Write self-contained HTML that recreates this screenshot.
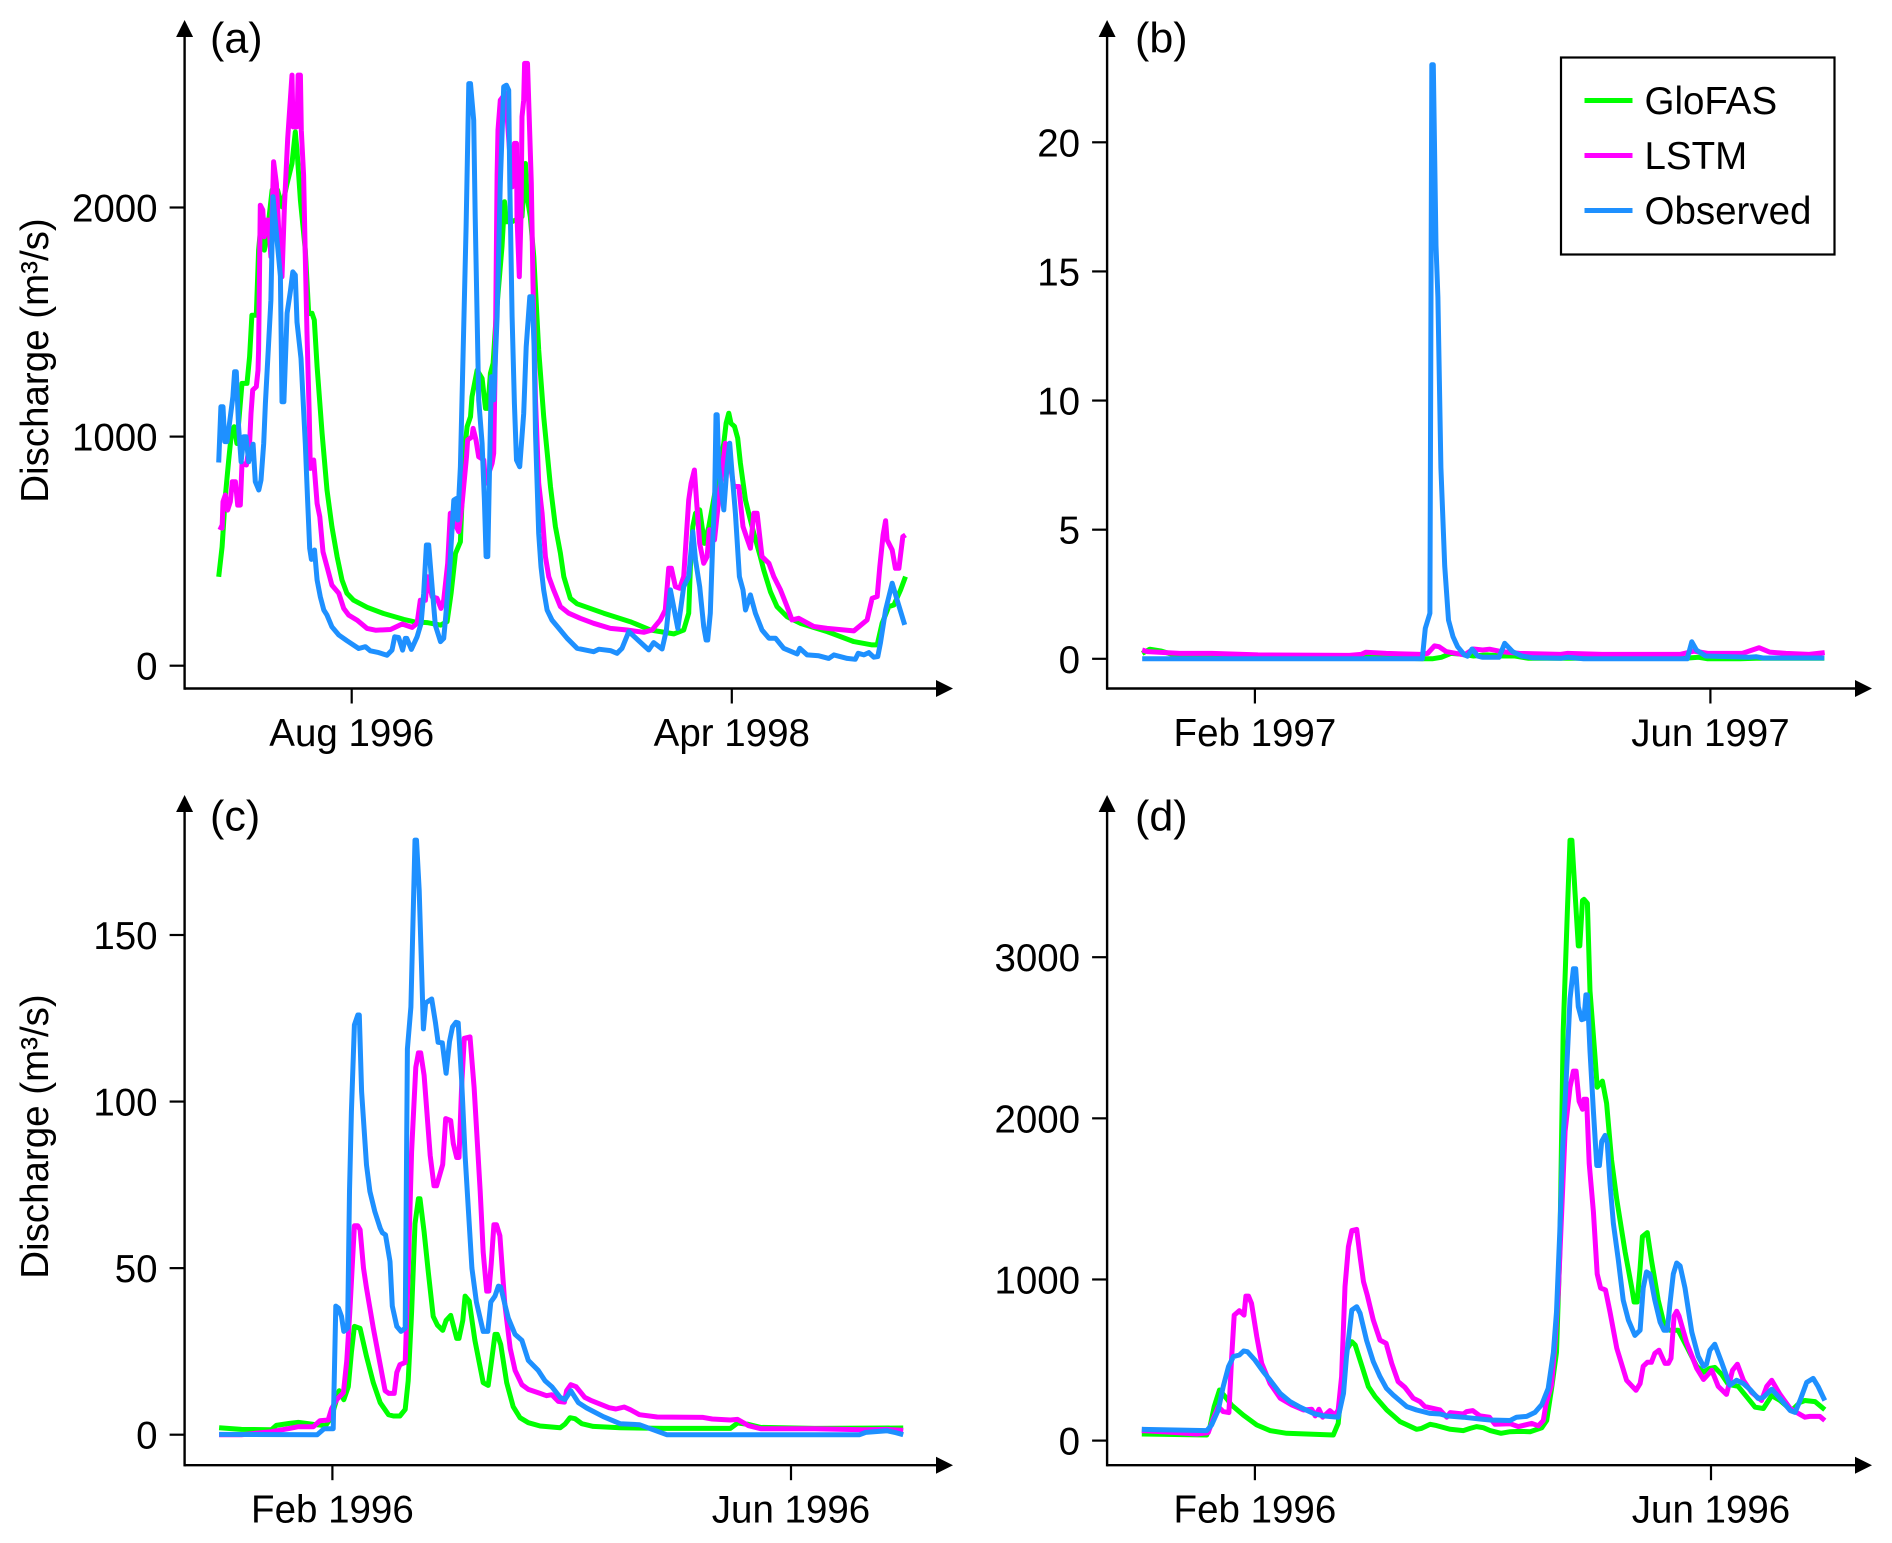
<!DOCTYPE html>
<html lang="en">
<head>
<meta charset="utf-8">
<title>Discharge comparison: GloFAS, LSTM, Observed</title>
<style>
html,body{margin:0;padding:0;background:#fff;}
svg{display:block;}
text{font-family:"Liberation Sans",Arial,sans-serif;font-size:38.5px;fill:#000;}
</style>
</head>
<body>
<svg id="chart" xmlns="http://www.w3.org/2000/svg" width="1892" height="1543" viewBox="0 0 1892 1543">
<rect x="0" y="0" width="1892" height="1543" fill="#fff"/>
<g id="panel-a"></g>
<g id="panel-b"></g>
<g id="panel-c"></g>
<g id="panel-d"></g>
<text x="210" y="52.5" style="font-size:43px">(a)</text>
<text x="1135" y="52.5" style="font-size:43px">(b)</text>
<text x="210" y="830.5" style="font-size:43px">(c)</text>
<text x="1135" y="830.5" style="font-size:43px">(d)</text>
<text transform="translate(48,360.5) rotate(-90)" text-anchor="middle" style="font-size:38.5px">Discharge (m³/s)</text>
<text transform="translate(48,1136.5) rotate(-90)" text-anchor="middle" style="font-size:38.5px">Discharge (m³/s)</text>
<g>
<rect x="1561" y="57.5" width="273.5" height="197" fill="#fff" stroke="#000" stroke-width="2.2"/>
<line x1="1584.5" y1="100.5" x2="1632.5" y2="100.5" stroke="#00ff00" stroke-width="5"/>
<line x1="1584.5" y1="155.5" x2="1632.5" y2="155.5" stroke="#ff00ff" stroke-width="5"/>
<line x1="1584.5" y1="210.5" x2="1632.5" y2="210.5" stroke="#1e90ff" stroke-width="5"/>
<text x="1644.5" y="114">GloFAS</text>
<text x="1644.5" y="169">LSTM</text>
<text x="1644.5" y="224">Observed</text>
</g>
</svg>
<script>
// Panel (a): time in months since Jan 1996, discharge in m3/s
const aTickMonths = [7, 27];
const aTickLabels = ['Aug 1996', 'Apr 1998'];
const aYTicks = [0, 1000, 2000];
const aObservedTime = [
0,.12,.23,.32,.44,.58,.75,.84,.93,1.05,
1.18,1.32,1.44,1.58,1.81,1.93,2.11,2.23,2.37,2.46,
2.63,2.75,2.86,3.25,3.33,3.43,3.6,3.77,3.9,4.03,
4.12,4.33,4.47,4.56,4.68,4.79,4.88,5.04,5.18,5.35,
5.53,5.7,5.96,6.32,6.75,7.37,7.72,7.98,8.42,8.86,
9.12,9.26,9.47,9.68,9.82,9.9,10.14,10.44,10.65,10.79,
10.93,11.05,11.23,11.4,11.67,11.84,11.93,12.16,12.37,12.51,
12.58,12.72,12.86,13.02,13.16,13.25,13.42,13.5,13.68,13.86,
13.98,14.07,14.16,14.26,14.35,14.47,14.65,14.82,15,15.14,
15.26,15.32,15.44,15.56,15.67,15.84,16.05,16.18,16.37,16.5,
16.6,16.67,16.84,16.96,17.1,17.28,17.54,17.9,18.33,18.86,
19.73,20,20.61,20.96,21.22,21.58,22.63,22.89,23.33,23.56,
23.77,24.16,24.3,24.47,24.73,24.95,25.09,25.31,25.52,25.65,
25.73,25.87,26,26.1,26.17,26.23,26.31,26.58,26.75,26.89,
27,27.19,27.4,27.59,27.72,27.98,28.24,28.59,28.95,29.3,
29.73,30.44,30.58,30.96,31.58,32.1,32.37,33.07,33.5,33.65,
33.95,34.21,34.47,34.68,34.82,35.09,35.44,35.7,36.1];
const aObservedValue = [
887,1130,1130,978,978,1065,1174,1283,1283,1043,
890,999,999,890,967,803,767,810,970,1145,
1407,1596,2047,1700,1152,1152,1538,1632,1719,1705,
1500,1341,1116,970,723,512,464,505,374,301,
243,221,170,134,109,75,83,65,57,46,
68,126,123,68,119,119,71,126,185,316,
527,527,345,177,105,119,199,432,723,730,
636,868,1363,1916,2541,2541,2381,1960,1160,970,
723,476,476,898,1261,1160,1523,2105,2527,2534,
2512,2105,1523,1145,898,868,1101,1392,1610,1610,
1392,1014,577,432,330,243,199,163,120,76,
61,72,66,54,76,149,69,101,73,156,
331,163,243,345,389,585,462,345,171,112,
112,229,549,738,1095,1095,869,680,869,971,
854,665,389,331,243,309,229,156,120,120,
76,51,76,47,43,32,47,32,28,54,
47,57,37,40,98,243,360,287,178];
const aLstmTime = [
0,.18,.23,.35,.47,.61,.72,.88,1,1.14,
1.23,1.46,1.63,1.7,1.79,1.98,2.07,2.1,2.19,2.32,
2.4,2.54,2.63,2.75,2.89,3.04,3.16,3.33,3.46,3.63,
3.86,3.91,4.12,4.18,4.3,4.35,4.47,4.56,4.65,4.77,
4.82,5,5.18,5.32,5.49,5.7,5.96,6.32,6.58,6.84,
7.28,7.81,8.25,9.04,9.65,10.18,10.44,10.61,10.88,11,
11.23,11.49,11.7,11.84,12.05,12.19,12.63,12.81,13.04,13.1,
13.33,13.39,13.54,13.68,13.95,14.04,14.39,14.47,14.56,14.65,
14.7,14.82,15.09,15.44,15.56,15.67,15.7,15.82,15.91,15.96,
16.05,16.1,16.25,16.45,16.54,16.67,16.84,17.02,17.19,17.37,
17.63,17.98,18.42,19.03,19.73,20.61,21.49,22.37,22.8,23.24,
23.5,23.68,23.82,24.03,24.26,24.47,24.73,24.86,25.03,25.14,
25.31,25.52,25.7,25.82,26.09,26.31,26.66,26.93,27.1,27.37,
27.59,27.77,27.98,28.16,28.33,28.59,28.95,29.21,29.56,29.91,
30.17,30.52,31.31,32.02,33.42,34.12,34.38,34.65,34.79,34.96,
35.09,35.17,35.44,35.61,35.79,36,36.14];
const aLstmValue = [
607,600,716,745,679,716,803,803,701,701,
883,876,970,1101,1203,1218,1290,1377,2010,1989,
1872,1945,1945,1785,2200,2105,1901,1698,2003,2301,
2578,2352,2352,2578,2578,2338,2141,1785,1450,1087,
861,898,708,650,497,432,352,316,250,221,
199,163,155,158,182,167,185,286,286,388,
301,294,250,286,447,665,585,708,912,985,
999,1036,985,912,898,796,883,927,1377,2141,
2338,2469,2498,2090,2280,2280,1960,1698,1960,2396,
2469,2629,2629,2107,1670,1160,796,665,476,388,
330,258,229,207,185,163,156,146,156,200,
243,425,425,345,338,389,723,796,854,723,
534,447,476,593,549,723,971,869,782,782,
607,563,513,665,665,476,447,389,331,258,
200,207,171,163,152,200,294,302,432,571,
633,549,505,425,425,563,571];
const aGlofasTime = [
0,.18,.35,.53,.67,.82,.96,1.23,1.49,1.63,
1.75,1.98,2.1,2.28,2.4,2.54,2.81,3.1,3.33,3.6,
3.86,4.03,4.12,4.3,4.56,4.74,4.91,5.03,5.18,5.44,
5.7,5.96,6.23,6.49,6.75,7.1,7.81,8.68,9.74,10.26,
10.96,11.67,12.02,12.23,12.46,12.72,12.89,13.07,13.25,13.33,
13.6,13.86,14.04,14.16,14.3,14.44,14.6,14.91,15.04,15.14,
15.44,15.96,16.14,16.23,16.4,16.58,16.84,17.1,17.46,17.72,
17.98,18.16,18.5,18.86,20.26,21.66,22.72,23.95,24.47,24.73,
24.82,24.95,25.09,25.31,25.56,25.79,26.58,26.7,26.84,26.96,
27.14,27.31,27.45,27.72,27.89,28.16,28.5,28.68,29.03,29.38,
29.91,30.61,32.02,33.42,34.38,34.65,34.91,35.26,35.53,35.88,36.14];
const aGlofasValue = [
388,519,738,898,1014,1043,970,1232,1232,1349,
1530,1530,1814,1974,1814,1872,2076,2076,2003,2105,
2192,2330,2250,2032,1814,1537,1538,1509,1305,1014,
767,607,476,374,316,286,255,228,202,192,
188,177,192,316,490,541,898,1043,1087,1174,
1290,1254,1123,1123,1276,1320,1523,1829,2025,1938,
1938,1960,2192,2047,1960,1785,1378,1087,781,607,
491,389,294,270,229,192,156,139,156,229,
432,607,665,680,534,607,971,1058,1102,1058,
1044,993,884,723,665,578,476,418,323,258,
214,185,149,105,91,91,185,258,265,331,389];

// Panel (b): time in day of year 1997, discharge in m3/s
const bTickDays = [32, 152];
const bTickLabels = ['Feb 1997', 'Jun 1997'];
const bYTicks = [0, 5, 10, 15, 20];
const bObservedTime = [2.3,76.1,76.9,78.1,78.6,79,79.7,80.2,81,82,83,84.2,85.4,87.2,88,89.2,90.8,92,96.3,97.8,99.9,102.3,105.3,112.6,114.4,118.6,145.9,147.1,148.3,150.7,162.2,164,165.8,182];
const bObservedValue = [0,0,1.18,1.76,23,23,16,14,7.4,3.6,1.5,.86,.47,.15,.1,.38,.1,.06,.06,.6,.28,.11,.04,.02,.06,0,0,.66,.34,.11,.06,.08,.03,.03];
const bLstmTime = [2.3,3.7,12.2,20.7,32.8,56.9,60,61.2,66.6,75.7,77.5,79.3,80.5,82.4,87.2,89.6,92,93.8,96.9,101.7,112.6,114.4,123.5,144,147.7,151.3,160.4,164.8,167.6,171.9,178,182.1];
const bLstmValue = [.34,.28,.21,.21,.15,.13,.17,.25,.21,.17,.21,.5,.47,.28,.15,.38,.34,.37,.28,.21,.17,.21,.17,.17,.3,.21,.21,.43,.26,.21,.17,.24];
const bGlofasTime = [2.3,4.3,7.4,12.2,56.9,61.2,64,76.3,78.7,81.1,83.6,87.2,89.6,93.2,96.9,100.5,104.1,145.2,148.9,151.3,159.8,164,182];
const bGlofasValue = [.21,.37,.3,.08,.06,.1,.06,0,0,.06,.21,.17,.11,.15,.11,.11,.02,.02,.06,0,0,.02,.02];

// Panel (c): time in day of year 1996, discharge in m3/s
const cTickDays = [32, 153];
const cTickLabels = ['Feb 1996', 'Jun 1996'];
const cYTicks = [0, 50, 100, 150];
const cObservedTime = [
2.1,28,29.8,32.2,32.9,33.6,34.4,35,36,36.5,
37,37.8,38.7,39.1,39.7,41,41.9,43.2,44.6,45.2,
46,47.2,47.8,49,50.1,51.2,51.8,52.7,53.8,54.2,
54.9,56,56.6,58.2,59.2,59.9,61,62,62.9,63.7,
64.6,65.2,66.1,67,67.9,68.8,70,71.8,73,73.8,
74.9,75.8,76.4,77.5,78.4,80.2,82,83.7,86.3,88.1,
89.9,92.1,93.4,94.9,96.9,99.1,103.5,107.9,113,120.2,
171.1,172.7,178.3,180.7,182.6];
const cObservedValue = [
.1,0,1.8,1.8,38.6,38,35.5,31,32,73,
97,123,126,126,103,81,73,67,62,60.6,
60,52,38.6,32.5,31,32,115.8,128.4,178.5,178.5,
163.4,121.8,129.6,130.8,123.6,117.8,117.6,108.5,118,122.4,
123.8,123.6,106.7,83.8,66.9,50,39.8,31,31,39.8,
41.6,44.6,44.3,39.2,35,30.1,28.3,22.3,19.3,16.2,
14.4,11.2,10.6,13.2,9.6,8,5.4,3.3,3,0,
0,.7,1.2,.6,0];
const cLstmTime = [
2.1,8,15.9,20.7,23,27,28.7,30.9,31.8,33.1,
34.9,35.8,36.6,37.8,38.7,39.3,40.2,41,42.8,44.6,
45.9,46.9,48.3,49,49.8,51.2,52,52.9,54,54.7,
55.3,56.2,57.8,58.8,59.5,61.1,61.9,63.2,63.9,64.8,
65.4,66.1,66.8,68.3,69.4,71,71.8,72.7,73.3,73.9,
74.6,75.3,76.2,77.5,78.9,80.2,82,83.7,86.8,88.5,
89.9,91.6,93.2,93.8,94.9,96.3,98.6,100.4,105,106.8,
109,110.6,113,117.7,129.8,132.2,137,138.9,141.8,145,
159.3,172,178.4,182.6];
const cLstmValue = [
0,0,.9,1.9,2.4,2.4,4.2,4.4,7.8,10.5,
12.6,22.3,36.8,62.7,62.7,61.5,50,44,32,21,
13.2,12.4,12.4,18.7,21,21.7,48.8,85,110.3,114.6,
114.6,107.9,83.8,74.7,74.7,81.1,94.9,94.3,87.4,83.2,
83.2,104.3,119,119.4,104.3,73,54.8,43.1,43.1,51.2,
63,63,59.7,39.2,25.9,19.3,15,13.6,12.4,11.7,
12,10,9.8,13.2,15,14.4,11.2,10.2,8.1,7.7,
8.3,7.5,6,5.3,5.2,4.7,4.4,4.6,2.7,1.8,
1.8,1.5,1.6,1.3];
const cGlofasTime = [
2.1,8,15.9,17.2,20.7,23,27,30.2,31.8,32.7,
33.8,35,36.2,37,37.8,39.3,41,42.8,44.6,46.8,
48.1,49.8,51.2,52,52.9,53.8,54.7,55.1,56.2,57.3,
58.6,59.7,61.1,62,63.2,64.8,65.4,66.4,67,68.1,
69.6,71.8,73.1,74,74.9,75.5,76.4,78,79.7,81.5,
83.7,86.8,92.1,93.4,94.7,96,97.8,100.8,107.9,119.4,
137,138.9,141.8,145,159.3,182.6];
const cGlofasValue = [
2.1,1.6,1.5,2.8,3.4,3.7,3.1,2.7,5.4,9,
13.2,10.5,14.4,24.7,32.5,31.9,23.5,15.6,9.6,6,
5.6,5.6,7.6,16.2,36.8,63.3,70.8,70.8,60.9,48.8,
35.5,32.9,31.3,34.3,35.8,28.9,28.9,34.3,41.6,40.1,
28.3,15.6,14.8,22.3,30.1,30.1,27.1,15.6,8.4,5.1,
3.6,2.6,2.1,3.2,5.1,4.8,3.3,2.5,2.1,1.9,
1.9,3.5,3.1,2.2,1.9,2];

// Panel (d): time in day of year 1996, discharge in m3/s
const dTickDays = [32, 153];
const dTickLabels = ['Feb 1996', 'Jun 1996'];
const dYTicks = [0, 1000, 2000, 3000];
const dObservedTime = [
2,19.2,20.5,22.3,23.6,25,26.3,27.9,29,30,
32,34.2,36,38.7,41.3,44,47.5,50.2,54.1,55.5,
56.3,57.7,59,59.9,61.6,63.4,65.2,66.9,68.7,72.3,
74.9,78.5,81.1,82.9,87.3,91.7,94.4,99.7,101.4,104.1,
106.3,108.1,109.8,111.2,112,112.9,113.6,114.7,115.6,116.5,
117.1,117.8,118.7,119.3,119.8,120.2,120.9,121.8,122.7,123.4,
124,124.9,125.5,126.2,127.1,128.4,129.7,131.1,132.8,134.2,
135,135.9,136.8,138.1,139.5,140.5,141.4,142.1,143,143.9,
144.8,146.1,147.9,149.6,151,151.8,152.7,154,155.8,158,
159.8,161.6,163.3,165.5,166.9,169.1,171.3,174,175.3,176.6,
178.4,180.1,181.4,183.2];
const dObservedValue = [
70,62,97,190,335,459,521,531,556,552,
500,428,376,293,242,207,169,153,145,293,
521,810,831,790,624,490,397,324,283,211,
190,169,165,153,145,134,128,125,145,150,
175,224,324,548,798,1296,1794,2293,2741,2928,
2928,2692,2612,2617,2766,2766,2417,2044,1707,1707,
1857,1894,1844,1595,1346,1122,872,748,653,685,
947,1047,1034,872,735,685,685,847,1034,1102,
1084,947,673,524,461,474,561,598,486,344,
374,354,319,262,269,319,262,187,175,249,
361,386,336,249];
const dLstmTime = [
2,10.4,16.6,19.6,21,22.3,23.6,25.1,25.8,26.5,
27.9,29.1,29.6,30.3,31.1,32.5,33.8,36,38.7,41.8,
44.9,47.1,48,49,50,51.9,53.2,54.1,55,55.9,
56.8,57.7,59,59.9,60.8,61.8,63.4,65.2,66.8,68.3,
70,71.8,74,75.8,77.1,81.1,82.9,83.8,87.3,88.2,
89.8,91.7,94.2,95.7,99.7,101.9,105.4,107.2,108.5,109.2,
110.7,111.6,112.5,113.4,114.3,115.6,116.5,117.2,118,118.9,
119.3,120,120.7,121.8,122.8,123.7,125,126.2,128,130.6,
133.1,134.2,135,136.1,137.2,138.1,139.2,140.8,141.7,142.4,
143.2,143.9,144.5,146.5,149.2,151,153.2,154.9,157.1,158.7,
160,161.6,163.8,166.4,167.8,169.1,171.3,174,175.7,177.9,
179.2,180.6,181.9,183.2];
const dLstmValue = [
62,51,41,49,138,211,180,174,500,779,
806,779,897,897,852,645,480,355,263,221,
190,194,153,194,145,186,159,190,397,955,
1203,1303,1311,1141,986,904,748,624,604,480,
366,331,263,242,211,190,145,174,165,180,
186,153,145,101,105,87,107,92,125,224,
349,598,922,1421,1919,2193,2293,2293,2106,2056,
2118,2118,1720,1421,1034,947,935,798,573,374,
312,354,461,486,486,541,561,479,479,511,
773,803,773,611,449,379,436,337,287,436,
474,374,299,249,337,374,287,199,175,145,
150,150,150,125];
const dGlofasTime = [
2,19.2,20.1,21.2,22.6,24.1,25.8,28.9,32.5,36,
40.4,47.5,52.8,54.1,55,56.3,57.7,58.6,60.3,62.1,
63.9,67,70.5,74.9,76.2,78.5,80.2,83.8,87.3,89.1,
90.8,92.6,94.4,97.3,99.7,102.3,105,108.1,109.4,110.7,
112,112.9,113.8,114.9,115.6,116.1,116.9,117.8,118.2,118.9,
119.3,120.2,120.9,122.2,122.8,124.2,125.3,126.6,128,130.2,
132,132.6,133.4,134.2,134.8,136.1,137.2,139,140.8,142.1,
144.3,146.5,149.2,151,152.7,154,155.8,157.6,160.2,162.4,
164.7,166.9,169.1,171.3,174.4,176.6,177.9,180.6,183.2];
const dGlofasValue = [
41,35,87,211,314,273,221,159,97,62,
45,39,35,107,335,562,614,593,469,335,
273,190,118,70,76,101,93,70,62,76,
87,80,62,45,55,57,55,80,125,324,
548,1171,2542,3290,3726,3726,3414,3070,3070,3352,
3359,3334,2791,2392,2193,2231,2093,1745,1495,1171,
947,860,860,1072,1266,1291,1122,872,698,685,
685,586,461,424,449,454,411,349,337,274,
207,199,279,249,187,237,249,242,192];

const seriesColors = {glofas:'#00ff00', lstm:'#ff00ff', observed:'#1e90ff'};
const SVGNS = 'http://www.w3.org/2000/svg';

function linearScale(d0, d1, r0, r1) {
  return function (v) { return r0 + (v - d0) * (r1 - r0) / (d1 - d0); };
}

function drawSeries(group, panelKey, seriesKey, times, values, xFn, yFn) {
  const n = Math.min(times.length, values.length);
  const pts = [];
  for (let i = 0; i < n; i++) {
    pts.push(xFn(times[i]).toFixed(1) + ',' + yFn(values[i]).toFixed(1));
  }
  const line = document.createElementNS(SVGNS, 'polyline');
  line.setAttribute('points', pts.join(' '));
  line.setAttribute('fill', 'none');
  line.setAttribute('stroke', seriesColors[seriesKey]);
  line.setAttribute('stroke-width', '5');
  line.setAttribute('stroke-linejoin', 'round');
  
  
  group.appendChild(line);
}

function drawAxes(group, panelKey, box, xFn, yFn, xTicks, xLabels, yTicks) {
  const xAxis = document.createElementNS(SVGNS, 'line');
  xAxis.setAttribute('x1', box.left);
  xAxis.setAttribute('y1', box.bottom);
  xAxis.setAttribute('x2', box.right - 14);
  xAxis.setAttribute('y2', box.bottom);
  xAxis.setAttribute('stroke', '#000');
  xAxis.setAttribute('stroke-width', '2.4');
  
  
  group.appendChild(xAxis);

  const yAxis = document.createElementNS(SVGNS, 'line');
  yAxis.setAttribute('x1', box.left);
  yAxis.setAttribute('y1', box.bottom + 1.2);
  yAxis.setAttribute('x2', box.left);
  yAxis.setAttribute('y2', box.top + 14);
  yAxis.setAttribute('stroke', '#000');
  yAxis.setAttribute('stroke-width', '2.4');
  
  
  group.appendChild(yAxis);

  const xArrow = document.createElementNS(SVGNS, 'polygon');
  xArrow.setAttribute('points', (box.right - 17) + ',' + (box.bottom - 8.5) + ' ' + box.right + ',' + box.bottom + ' ' + (box.right - 17) + ',' + (box.bottom + 8.5));
  xArrow.setAttribute('fill', '#000');
  
  
  group.appendChild(xArrow);

  const yArrow = document.createElementNS(SVGNS, 'polygon');
  yArrow.setAttribute('points', (box.left - 8.5) + ',' + (box.top + 17) + ' ' + box.left + ',' + box.top + ' ' + (box.left + 8.5) + ',' + (box.top + 17));
  yArrow.setAttribute('fill', '#000');
  
  
  group.appendChild(yArrow);

  xTicks.forEach(function (t, i) {
    const px = xFn(t);
    const tick = document.createElementNS(SVGNS, 'line');
    tick.setAttribute('x1', px);
    tick.setAttribute('x2', px);
    tick.setAttribute('y1', box.bottom);
    tick.setAttribute('y2', box.bottom + 15);
    tick.setAttribute('stroke', '#000');
    tick.setAttribute('stroke-width', '2.2');
    
    
    group.appendChild(tick);
    const label = document.createElementNS(SVGNS, 'text');
    label.setAttribute('x', px);
    label.setAttribute('y', box.bottom + 57.5);
    label.setAttribute('text-anchor', 'middle');
    
    
    label.textContent = xLabels[i];
    group.appendChild(label);
  });

  yTicks.forEach(function (v) {
    const py = yFn(v);
    const tick = document.createElementNS(SVGNS, 'line');
    tick.setAttribute('x1', box.left - 15);
    tick.setAttribute('x2', box.left);
    tick.setAttribute('y1', py);
    tick.setAttribute('y2', py);
    tick.setAttribute('stroke', '#000');
    tick.setAttribute('stroke-width', '2.2');
    
    
    group.appendChild(tick);
    const label = document.createElementNS(SVGNS, 'text');
    label.setAttribute('x', box.left - 27);
    label.setAttribute('y', py + 14);
    label.setAttribute('text-anchor', 'end');
    
    
    label.textContent = String(v);
    group.appendChild(label);
  });
}

function drawPanel(key, box, xFn, yFn, xTicks, xLabels, yTicks, series) {
  const group = document.getElementById('panel-' + key);
  drawAxes(group, key, box, xFn, yFn, xTicks, xLabels, yTicks);
  drawSeries(group, key, 'glofas', series[0], series[1], xFn, yFn);
  drawSeries(group, key, 'lstm', series[2], series[3], xFn, yFn);
  drawSeries(group, key, 'observed', series[4], series[5], xFn, yFn);
}

drawPanel('a', {left:184.6, bottom:688.5, right:953, top:20},
  linearScale(7, 27, 351.7, 731.8), linearScale(0, 2000, 665.7, 207.5),
  aTickMonths, aTickLabels, aYTicks,
  [aGlofasTime, aGlofasValue, aLstmTime, aLstmValue, aObservedTime, aObservedValue]);
drawPanel('b', {left:1107.1, bottom:688.5, right:1872, top:20},
  linearScale(32, 152, 1254.9, 1710.4), linearScale(0, 20, 658.8, 142.3),
  bTickDays, bTickLabels, bYTicks,
  [bGlofasTime, bGlofasValue, bLstmTime, bLstmValue, bObservedTime, bObservedValue]);
drawPanel('c', {left:184.6, bottom:1465.2, right:953, top:795},
  linearScale(32, 153, 332.4, 791), linearScale(0, 150, 1434.7, 935),
  cTickDays, cTickLabels, cYTicks,
  [cGlofasTime, cGlofasValue, cLstmTime, cLstmValue, cObservedTime, cObservedValue]);
drawPanel('d', {left:1107.1, bottom:1465.2, right:1872, top:795},
  linearScale(32, 153, 1254.9, 1711), linearScale(0, 3000, 1440.6, 957.2),
  dTickDays, dTickLabels, dYTicks,
  [dGlofasTime, dGlofasValue, dLstmTime, dLstmValue, dObservedTime, dObservedValue]);
</script>
</body>
</html>
